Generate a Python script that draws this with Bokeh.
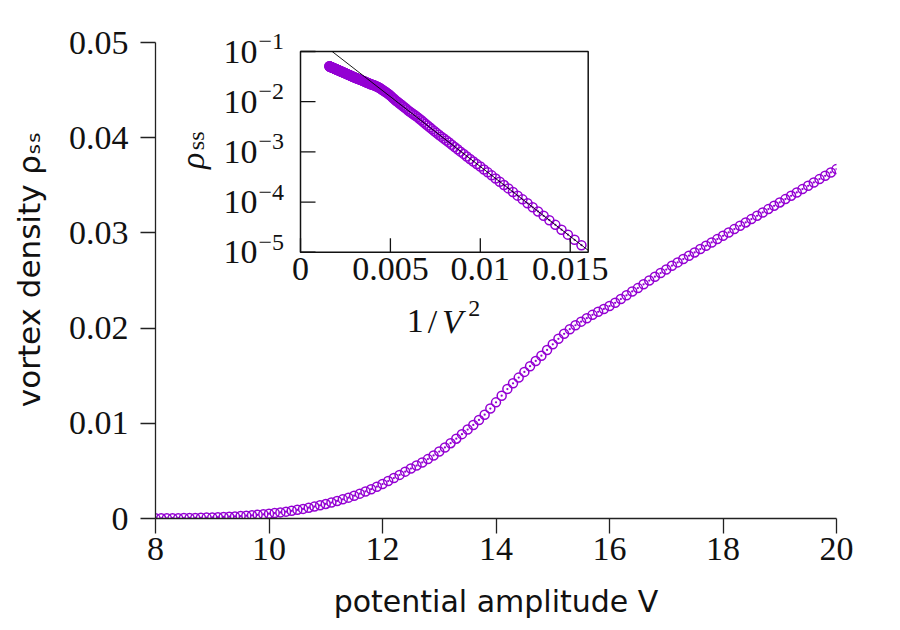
import math
from bokeh.plotting import figure
from bokeh.models import (Range1d, LinearScale, LogScale, FixedTicker,
                          CustomJSTickFormatter, ColumnDataSource, LabelSet, Label)
from bokeh.core.properties import value
from bokeh.embed import file_html
from bokeh.resources import INLINE

# ---------------- data ----------------
V_main = [
    8.0, 8.1, 8.2, 8.3, 8.4, 8.5, 8.6, 8.7, 8.8, 8.9,
    9.0, 9.1, 9.2, 9.3, 9.4, 9.5, 9.6, 9.7, 9.8, 9.9,
    10.0, 10.1, 10.2, 10.3, 10.4, 10.5, 10.6, 10.7, 10.8, 10.9,
    11.0, 11.1, 11.2, 11.3, 11.4, 11.5, 11.6, 11.7, 11.8, 11.9,
    12.0, 12.1, 12.2, 12.3, 12.4, 12.5, 12.6, 12.7, 12.8, 12.9,
    13.0, 13.1, 13.2, 13.3, 13.4, 13.5, 13.6, 13.7, 13.8, 13.9,
    14.0, 14.1, 14.2, 14.3, 14.4, 14.5, 14.6, 14.7, 14.8, 14.9,
    15.0, 15.1, 15.2, 15.3, 15.4, 15.5, 15.6, 15.7, 15.8, 15.9,
    16.0, 16.1, 16.2, 16.3, 16.4, 16.5, 16.6, 16.7, 16.8, 16.9,
    17.0, 17.1, 17.2, 17.3, 17.4, 17.5, 17.6, 17.7, 17.8, 17.9,
    18.0, 18.1, 18.2, 18.3, 18.4, 18.5, 18.6, 18.7, 18.8, 18.9,
    19.0, 19.1, 19.2, 19.3, 19.4, 19.5, 19.6, 19.7, 19.8, 19.9,
    20.0,
]
rho_main = [
    0.0000138, 0.0000177, 0.0000224, 0.0000281, 0.0000351, 0.0000434, 0.0000532, 0.0000649, 0.0000785, 0.0000945,
    0.000113, 0.000134, 0.000159, 0.000187, 0.000218, 0.000254, 0.000294, 0.000340, 0.000390, 0.000446,
    0.00051, 0.00057, 0.00064, 0.00072, 0.00081, 0.00091, 0.00101, 0.00113, 0.00125, 0.00139,
    0.00153, 0.00168, 0.00184, 0.00201, 0.00219, 0.00239, 0.00261, 0.00284, 0.00308, 0.00334,
    0.00362, 0.00393, 0.00425, 0.00458, 0.00492, 0.00525, 0.00556, 0.00589, 0.00624, 0.00662,
    0.00703, 0.00746, 0.00791, 0.00838, 0.00886, 0.00934, 0.00983, 0.01035, 0.01090, 0.01155,
    0.01220, 0.01290, 0.01360, 0.01420, 0.01480, 0.01540, 0.01600, 0.01655, 0.01710, 0.01770,
    0.01830, 0.01888, 0.01940, 0.01988, 0.02030, 0.02068, 0.02104, 0.02139, 0.02171, 0.02201,
    0.02232, 0.02266, 0.02305, 0.02345, 0.02385, 0.02420, 0.02460, 0.02500, 0.02540, 0.02578,
    0.02615, 0.02655, 0.02690, 0.02725, 0.02760, 0.02795, 0.02830, 0.02865, 0.02900, 0.02935,
    0.02970, 0.03005, 0.03040, 0.03075, 0.03110, 0.03145, 0.03180, 0.03215, 0.03250, 0.03285,
    0.03320, 0.03355, 0.03390, 0.03425, 0.03460, 0.03495, 0.03530, 0.03565, 0.03600, 0.03635,
    0.03670,
]
# extra points (V > 20) only visible in the inset
V_ext = [
    20.1, 20.2, 20.3, 20.4, 20.5, 20.6, 20.7, 20.8, 20.9, 21.0,
    21.1, 21.2, 21.3, 21.4, 21.5, 21.6, 21.7, 21.8, 21.9, 22.0,
    22.1, 22.2, 22.3, 22.4, 22.5, 22.6, 22.7, 22.8, 22.9, 23.0,
    23.1, 23.2, 23.3, 23.4, 23.5, 23.6, 23.7, 23.8, 23.9, 24.0,
    24.1, 24.2, 24.3, 24.4, 24.5, 24.6, 24.7, 24.8, 24.9, 25.0,
]
rho_ext = [
    0.03703, 0.03736, 0.03769, 0.03802, 0.03834, 0.03866, 0.03898, 0.03930, 0.03962, 0.03993,
    0.04024, 0.04055, 0.04086, 0.04116, 0.04146, 0.04176, 0.04206, 0.04236, 0.04265, 0.04294,
    0.04323, 0.04352, 0.04381, 0.04409, 0.04437, 0.04465, 0.04493, 0.04521, 0.04548, 0.04575,
    0.04602, 0.04629, 0.04656, 0.04683, 0.04709, 0.04735, 0.04761, 0.04787, 0.04813, 0.04838,
    0.04863, 0.04888, 0.04913, 0.04938, 0.04962, 0.04986, 0.05010, 0.05034, 0.05058, 0.05082,
]
# straight reference line in the inset (1/V^2, rho)
fit_inv_v2 = [0.00176, 0.016]
fit_rho = [0.1, 1.09e-5]

x_ticks = [8, 10, 12, 14, 16, 18, 20]
y_ticks = [0, 0.01, 0.02, 0.03, 0.04, 0.05]
ix_ticks = [0, 0.005, 0.01, 0.015]
ix_tick_labels = ["0", "0.005", "0.01", "0.015"]
iy_ticks = [1e-5, 1e-4, 1e-3, 1e-2, 1e-1]
iy_tick_base = ["10", "10", "10", "10", "10"]
iy_tick_exp = ["−5", "−4", "−3", "−2", "−1"]

X_LIM = (8, 20)
Y_LIM = (0, 0.05)
IX_LIM = (0.0, 0.016)
IY_LIM = (1e-5, 1e-1)

# ---------------- layout ----------------
PURPLE = "#9400d3"
INK = "#111111"
SERIF = "Liberation Serif"
SANS = "DejaVu Sans"
W, H = 896, 626
ML, MR, MT, MB = 155, 60, 20, 108
FW, FH = W - ML - MR, H - MT - MB
AXIS_TOP_GAP = 22          # px between frame top and the y = 0.05 end of the axis
# inset box position inside the main frame (pixels from frame left / top)
BL, BR, BT, BB = 145.0, 432.7, 31.0, 231.7

y_top = Y_LIM[0] + (Y_LIM[1] - Y_LIM[0]) * FH / (FH - AXIS_TOP_GAP)
p = figure(width=W, height=H, x_range=Range1d(*X_LIM), y_range=Range1d(Y_LIM[0], y_top),
           output_backend="svg", toolbar_location=None,
           min_border_left=ML, min_border_right=MR,
           min_border_top=MT, min_border_bottom=MB)
p.outline_line_color = None
p.grid.visible = False
p.background_fill_color = "white"
p.border_fill_color = "white"

for ax in (p.xaxis[0], p.yaxis[0]):
    ax.major_tick_out = 15
    ax.major_tick_in = 0
    ax.minor_tick_out = 0
    ax.minor_tick_in = 0
    ax.axis_line_color = "#222222"
    ax.axis_line_width = 1.3
    ax.major_tick_line_color = "#222222"
    ax.major_tick_line_width = 1.3
    ax.major_label_text_font = SERIF
    ax.major_label_text_font_size = "34px"
    ax.major_label_text_color = INK
    ax.axis_label_text_font = SANS
    ax.axis_label_text_font_style = "normal"
    ax.axis_label_text_color = INK

p.xaxis[0].axis_label_text_font_size = "30px"
p.yaxis[0].axis_label_text_font_size = "31px"
p.yaxis[0].bounds = Y_LIM
p.xaxis[0].ticker = FixedTicker(ticks=x_ticks)
p.yaxis[0].ticker = FixedTicker(ticks=y_ticks)
p.xaxis[0].major_label_standoff = 4
p.yaxis[0].major_label_standoff = 12
p.yaxis[0].formatter = CustomJSTickFormatter(code="return tick == 0 ? '0' : tick.toFixed(2);")
p.xaxis[0].axis_label = "potential amplitude V"
p.yaxis[0].axis_label = "vortex density ρₛₛ"
p.xaxis[0].axis_label_standoff = 21
p.yaxis[0].axis_label_standoff = 19

# main data
p.scatter(V_main, rho_main, marker="circle_dot", size=9, line_color=PURPLE,
          fill_color=None, line_width=1.5)

# ---------------- inset (extra ranges mapped onto a sub-rectangle) ----------------
sx = (BR - BL) / (IX_LIM[1] - IX_LIM[0])
ly0, ly1 = math.log10(IY_LIM[0]), math.log10(IY_LIM[1])
sy = (BB - BT) / (ly1 - ly0)
p.extra_x_ranges = {"ix": Range1d(IX_LIM[0] - BL / sx, IX_LIM[1] + (FW - BR) / sx)}
p.extra_x_scales = {"ix": LinearScale()}
p.extra_y_ranges = {"iy": Range1d(10 ** (ly0 - (FH - BB) / sy), 10 ** (ly1 + BT / sy))}
p.extra_y_scales = {"iy": LogScale()}
kw = dict(x_range_name="ix", y_range_name="iy")

p.quad(left=[IX_LIM[0]], right=[IX_LIM[1]], bottom=[IY_LIM[0]], top=[IY_LIM[1]],
       fill_color="white", line_color=INK, line_width=1.5, **kw)

V_all = V_main + V_ext
rho_all = rho_main + rho_ext
inv_v2 = [1.0 / (v * v) for v in V_all]
p.scatter(inv_v2, rho_all, marker="circle_dot", size=9, line_color=PURPLE,
          fill_color=None, line_width=1.5, **kw)
p.line(fit_inv_v2, fit_rho, line_color="black", line_width=0.9, **kw)

# inset ticks (pointing inward)
p.ray(x=ix_ticks, y=[IY_LIM[0]] * len(ix_ticks), length=14, angle=math.pi / 2,
      length_units="screen", line_color=INK, line_width=1.3, **kw)
p.ray(x=[IX_LIM[0]] * len(iy_ticks), y=iy_ticks, length=15, angle=0,
      length_units="screen", line_color=INK, line_width=1.3, **kw)

# inset tick labels
src_x = ColumnDataSource(dict(x=ix_ticks, y=[IY_LIM[0]] * len(ix_ticks), t=ix_tick_labels))
p.add_layout(LabelSet(x="x", y="y", text="t", source=src_x, y_offset=-6,
                      text_align="center", text_baseline="top",
                      text_font=value(SERIF), text_font_size=value("34px"),
                      text_color=INK, **kw))
src_y = ColumnDataSource(dict(x=[IX_LIM[0]] * len(iy_ticks), y=iy_ticks,
                              b=iy_tick_base, e=iy_tick_exp))
p.add_layout(LabelSet(x="x", y="y", text="b", source=src_y, x_offset=-43,
                      text_align="right", text_baseline="middle",
                      text_font=value(SERIF), text_font_size=value("34px"),
                      text_color=INK, **kw))
p.add_layout(LabelSet(x="x", y="y", text="e", source=src_y, x_offset=-42, y_offset=10,
                      text_align="left", text_baseline="middle",
                      text_font=value(SERIF), text_font_size=value("24px"),
                      text_color=INK, **kw))

# inset axis labels
ymid = 10 ** ((ly0 + ly1) / 2)
xmid = (IX_LIM[0] + IX_LIM[1]) / 2
p.add_layout(Label(x=IX_LIM[0], y=ymid, x_offset=-108, y_offset=-9, text="ρ",
                   angle=math.pi / 2, text_align="center", text_baseline="middle",
                   text_font=SERIF, text_font_style="italic", text_font_size="34px",
                   text_color=INK, **kw))
p.add_layout(Label(x=IX_LIM[0], y=ymid, x_offset=-105, y_offset=11, text="ss",
                   angle=math.pi / 2, text_align="center", text_baseline="middle",
                   text_font=SERIF, text_font_size="24px",
                   text_color=INK, **kw))
for txt, dx, dy, size, style in (("1", -29, 0, "34px", "normal"),
                                 ("/", -12, 0, "34px", "normal"),
                                 ("V", 8, 0, "34px", "italic"),
                                 ("2", 30, 13, "24px", "normal")):
    p.add_layout(Label(x=xmid, y=IY_LIM[0], x_offset=dx, y_offset=-69 + dy, text=txt,
                       text_align="center", text_baseline="alphabetic",
                       text_font=SERIF, text_font_style=style, text_font_size=size,
                       text_color=INK, **kw))

open("out.html", "w").write(file_html(p, INLINE))
